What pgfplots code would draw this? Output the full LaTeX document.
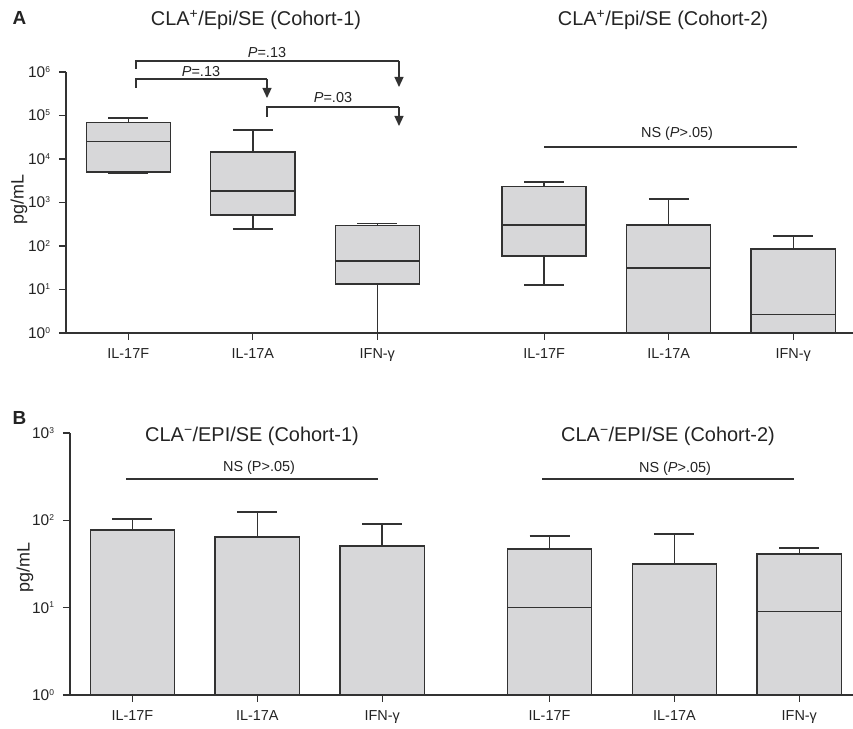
\documentclass[border=0pt]{standalone}
\usepackage{fontspec}
\setmainfont{Liberation Sans}
\usepackage{pgfplots}
\pgfplotsset{compat=1.18}
\usetikzlibrary{arrows.meta}
\definecolor{boxfill}{RGB}{215,215,217}
\definecolor{linecol}{RGB}{50,50,50}
\definecolor{txt}{RGB}{35,35,35}
\tikzset{bxl/.style={draw=linecol, line width=1.45bp, solid, mark=none},
         bxf/.style={bxl, fill=boxfill}}
\newcommand{\tsup}[1]{\textsuperscript{\fontsize{8.5}{8.5}\selectfont #1}}
% box: #1 position, #2 lower whisker, #3 lower quartile, #4 median, #5 upper quartile, #6 upper whisker
\newcommand{\bx}[6]{%
  \pgfmathsetmacro\bxL{#1-0.3375}\pgfmathsetmacro\bxR{#1+0.3375}%
  \pgfmathsetmacro\cpL{#1-0.16}\pgfmathsetmacro\cpR{#1+0.16}%
  \edef\tmp{%
    \noexpand\addplot[bxf] coordinates {(\bxL,#3) (\bxR,#3) (\bxR,#5) (\bxL,#5)} --cycle;
    \noexpand\addplot[bxl] coordinates {(\bxL,#4) (\bxR,#4)};
    \noexpand\addplot[bxl] coordinates {(#1,#5) (#1,#6)};
    \noexpand\addplot[bxl] coordinates {(\cpL,#6) (\cpR,#6)};
    \noexpand\addplot[bxl] coordinates {(#1,#3) (#1,#2)};
    \noexpand\addplot[bxl] coordinates {(\cpL,#2) (\cpR,#2)};
  }\tmp}
\pgfplotsset{
  every axis/.append style={
    scale only axis, ymode=log, log basis y=10,
    axis lines=left, axis line style={-, line width=1.4bp, draw=linecol},
    xmin=0.5, ymin=1,
    xtick={1,2,3,4.34,5.34,6.34},
    xticklabels={IL-17F,IL-17A,IFN-γ,IL-17F,IL-17A,IFN-γ},
    tick align=outside, major tick length=7bp,
    tick style={line width=1.3bp, draw=linecol},
    yminorticks=false, xminorticks=false,
    xticklabel style={font=\fontsize{14.5}{16}\selectfont, text=txt, yshift=-5bp},
    yticklabel style={font=\fontsize{15.5}{16}\selectfont, text=txt, xshift=-5bp},
    ylabel={pg/mL},
    axis on top=true,
  }
}
\begin{document}
\begin{tikzpicture}
\useasboundingbox (0,0) rectangle (853bp,729bp);
% ---------- Panel A ----------
\begin{axis}[at={(66bp,396bp)}, anchor=south west,
  width=787bp, height=261bp, xmax=6.82, ymax=1e6,
  ytick={1,10,100,1000,10000,100000,1000000},
  yticklabels={10\tsup{0},10\tsup{1},10\tsup{2},10\tsup{3},10\tsup{4},10\tsup{5},10\tsup{6}},
  every axis y label/.style={at={(axis description cs:-0.0597,0.513)}, rotate=90, anchor=center, font=\fontsize{18}{20}\selectfont, text=txt}]
% Cohort-1
\bx{1}{4800}{5000}{25000}{70000}{88000}
\bx{2}{245}{520}{1840}{14500}{46000}
\bx{3}{0.3}{13.4}{45}{300}{330}
% Cohort-2
\bx{4.34}{12.7}{59}{305}{2300}{2950}
\bx{5.34}{0.2}{0.3}{31}{305}{1200}
\bx{6.34}{0.2}{0.3}{2.7}{85}{170}
\end{axis}
% ---------- Panel B ----------
\begin{axis}[at={(70bp,34bp)}, anchor=south west,
  width=783bp, height=262bp, xmax=6.77, ymax=1000,
  ytick={1,10,100,1000},
  yticklabels={10\tsup{0},10\tsup{1},10\tsup{2},10\tsup{3}},
  every axis y label/.style={at={(axis description cs:-0.0575,0.485)}, rotate=90, anchor=center, font=\fontsize{18}{20}\selectfont, text=txt}]
% Cohort-1
\bx{1}{0.2}{0.3}{0.4}{77.6}{104}
\bx{2}{0.2}{0.3}{0.4}{64.6}{125}
\bx{3}{0.2}{0.3}{0.4}{51}{91}
% Cohort-2
\bx{4.34}{0.2}{0.3}{10}{47}{66}
\bx{5.34}{0.2}{0.3}{0.4}{31.6}{70}
\bx{6.34}{0.2}{0.3}{9}{41}{48}
\end{axis}
% ---------- annotations (pixel coordinates) ----------
\begin{scope}[x=1bp, y=-1bp, yshift=729bp, text=txt]
\tikzset{lab/.style={anchor=base, font=\fontsize{14.5}{16}\selectfont},
         ttl/.style={anchor=base, font=\fontsize{20}{22}\selectfont},
         br/.style={draw=linecol, line width=1.3bp},
         ar/.style={draw=linecol, line width=1.3bp, -{Triangle[length=10bp,width=9bp]}}}
\node[anchor=base west, font=\bfseries\fontsize{19}{20}\selectfont] at (9,25) {A};
\node[ttl] at (256,26) {CLA\textsuperscript{+}/Epi/SE (Cohort-1)};
\node[ttl] at (663,26) {CLA\textsuperscript{+}/Epi/SE (Cohort-2)};
% P-value brackets
\draw[br] (136,69) -- (136,61) -- (399,61);
\draw[ar] (399,61) -- (399,87);
\node[lab] at (267,58) {\textit{P}=.13};
\draw[br] (136,88) -- (136,79) -- (267,79);
\draw[ar] (267,79) -- (267,98);
\node[lab] at (201,77) {\textit{P}=.13};
\draw[br] (267,117) -- (267,107) -- (399,107);
\draw[ar] (399,107) -- (399,126);
\node[lab] at (333,103) {\textit{P}=.03};
\draw[br] (544,147) -- (797,147);
\node[lab] at (677,138) {NS (\textit{P}>.05)};
% Panel B
\node[anchor=base west, font=\bfseries\fontsize{19}{20}\selectfont] at (9,425) {B};
\node[ttl] at (252,442) {CLA\textsuperscript{−}/EPI/SE (Cohort-1)};
\node[ttl] at (668,442) {CLA\textsuperscript{−}/EPI/SE (Cohort-2)};
\draw[br] (126,479) -- (378,479);
\node[lab] at (259,472) {NS (P>.05)};
\draw[br] (542,479) -- (794,479);
\node[lab] at (675,473) {NS (\textit{P}>.05)};
\end{scope}
\end{tikzpicture}
\end{document}
